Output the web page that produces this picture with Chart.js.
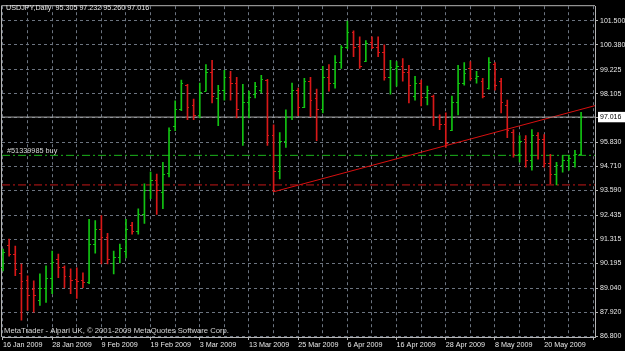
<!DOCTYPE html>
<html>
<head>
<meta charset="utf-8">
<title>USDJPY,Daily</title>
<script src="https://cdn.jsdelivr.net/npm/chart.js@4.4.0/dist/chart.umd.min.js"></script>
<style>
html, body { margin: 0; padding: 0; background: #000; }
</style>
</head>
<body>
<canvas id="chart" width="625" height="351"></canvas>
<script>
// daily bars, 16 Jan 2009 .. 28 May 2009 (index 0 = 16 Jan)
const OPEN = [
  90.00, 91.05, 90.62, 89.75, 89.40, 89.00, 88.50, 89.05, 89.50, 90.40,
  90.00, 89.60, 89.45, 89.40, 89.30, 91.10, 91.80, 91.40, 90.20, 90.50,
  90.75, 92.00, 91.70, 92.50, 93.60, 94.10, 93.50, 94.40, 96.60, 97.40,
  98.50, 97.60, 97.10, 98.25, 99.10, 97.90, 98.30, 98.90, 98.60, 97.00,
  97.70, 98.10, 98.30, 98.75, 96.20, 94.50, 95.90, 97.00, 98.30, 97.50,
  98.70, 97.90, 97.40, 98.90, 98.60, 99.60, 100.30, 101.00, 100.35, 99.65,
  100.50, 100.30, 100.05, 98.90, 99.30, 99.40, 99.10, 98.00, 98.60, 97.95,
  98.00, 97.00, 96.70, 96.40, 97.70, 98.60, 99.30, 98.85, 98.70, 98.35,
  99.50, 98.70, 97.60, 96.30, 95.30, 96.00, 95.00, 96.20, 96.00, 94.85,
  94.35, 94.80, 95.00, 94.90, 95.305
];
const HIGH = [
  90.86, 91.32, 91.00, 90.16, 89.61, 89.38, 89.70, 90.07, 90.76, 90.62,
  90.07, 89.93, 89.98, 89.75, 92.24, 92.19, 92.42, 91.59, 90.76, 91.09,
  92.24, 92.10, 92.74, 93.90, 94.45, 94.36, 94.91, 96.52, 97.77, 98.74,
  98.55, 97.86, 98.60, 99.47, 99.66, 98.50, 99.20, 99.15, 98.87, 98.55,
  98.23, 98.64, 98.97, 98.78, 96.66, 96.29, 97.35, 98.60, 98.37, 98.83,
  98.87, 98.32, 99.38, 99.47, 99.89, 100.35, 101.50, 101.04, 100.76, 100.58,
  100.76, 100.76, 100.39, 99.66, 99.61, 99.75, 99.43, 98.92, 98.74, 98.46,
  98.04, 97.12, 97.21, 98.00, 99.43, 99.56, 99.61, 99.15, 98.83, 99.79,
  99.56, 98.83, 97.81, 96.43, 96.15, 96.15, 96.43, 96.29, 96.20, 95.28,
  94.91, 95.23, 95.23, 95.46, 97.232
];
const LOW = [
  89.84, 90.53, 89.61, 87.54, 88.00, 87.91, 88.23, 88.37, 88.78, 89.52,
  89.06, 88.78, 88.55, 89.06, 89.24, 90.67, 90.16, 90.16, 89.70, 90.21,
  90.44, 91.55, 91.55, 92.05, 93.21, 92.47, 92.74, 94.22, 96.38, 97.31,
  96.89, 96.89, 96.98, 98.23, 97.68, 96.62, 97.81, 97.81, 96.98, 95.69,
  96.98, 97.91, 98.14, 95.69, 93.53, 94.13, 95.60, 96.89, 97.08, 97.45,
  97.03, 95.92, 97.21, 98.23, 98.37, 99.29, 100.21, 99.84, 99.29, 99.60,
  100.21, 99.84, 98.74, 98.09, 98.46, 98.69, 97.68, 97.81, 97.54, 97.58,
  96.62, 96.43, 95.60, 96.38, 97.12, 98.50, 98.74, 98.60, 97.91, 98.32,
  98.27, 97.21, 96.06, 95.14, 94.91, 94.68, 94.54, 95.05, 94.68, 93.90,
  93.85, 94.45, 94.54, 94.68, 95.260
];
const CLOSE = [
  90.70, 90.62, 89.95, 89.38, 88.70, 88.70, 89.05, 89.50, 90.25, 90.00,
  89.60, 89.40, 89.35, 89.30, 91.10, 91.80, 91.40, 90.40, 90.50, 90.90,
  91.80, 91.70, 92.50, 93.60, 94.10, 93.60, 94.35, 96.40, 97.40, 98.60,
  97.50, 97.10, 98.20, 99.10, 98.00, 98.30, 98.90, 98.60, 97.40, 97.70,
  97.95, 98.45, 98.80, 96.20, 94.50, 95.90, 97.00, 98.30, 97.50, 98.70,
  97.80, 97.40, 98.90, 98.60, 99.60, 100.30, 101.00, 100.30, 99.40, 100.45,
  100.30, 100.05, 98.90, 99.35, 99.40, 99.10, 98.50, 98.60, 97.95, 98.30,
  97.00, 96.70, 95.80, 97.70, 98.60, 99.05, 98.85, 98.95, 98.00, 99.60,
  98.50, 97.70, 96.40, 95.30, 95.90, 95.00, 96.20, 96.00, 94.85, 94.35,
  94.80, 95.00, 95.10, 95.30, 97.016
];

// x-axis labels, one every 8 bars
const DATE_LABELS = [
  "16 Jan 2009", "28 Jan 2009", "9 Feb 2009", "19 Feb 2009", "3 Mar 2009",
  "13 Mar 2009", "25 Mar 2009", "6 Apr 2009", "16 Apr 2009", "28 Apr 2009",
  "8 May 2009", "20 May 2009"
];
const PRICE_TICKS = [86.800, 87.920, 89.040, 90.195, 91.315, 92.435, 93.590,
  94.710, 95.830, 97.016, 98.105, 99.225, 100.380, 101.500];

const BID = 97.016;
const BUY_LEVEL = 95.23;
const STOP_LEVEL = 93.85;
const TREND_X = [44, 96.26];
const TREND_Y = [93.53, 97.55];

const X_MIN = -0.16, X_MAX = 96.26;
const Y_MIN = 86.754, Y_MAX = 102.19;

const BULL = "#12c412";
const BEAR = "#d81818";
const GRID = "#6c7480";
const AXIS = "#b4b4b4";
const TEXT = "#e8e8e8";
const FONT = { family: "Liberation Sans", size: 7 };

const barColors = CLOSE.map((c, i) => c >= OPEN[i] ? BULL : BEAR);

// open tick left, close tick right
const ohlcTicks = {
    id: "ohlcTicks",
    afterDatasetsDraw(chart) {
        const ctx = chart.ctx;
        const xs = chart.scales.x, ys = chart.scales.y;
        ctx.save();
        ctx.lineWidth = 1;
        OPEN.forEach((o, i) => {
            const x = Math.round(xs.getPixelForValue(i));
            const yo = Math.round(ys.getPixelForValue(o)) + 0.5;
            const yc = Math.round(ys.getPixelForValue(CLOSE[i])) + 0.5;
            ctx.strokeStyle = barColors[i];
            ctx.beginPath();
            ctx.moveTo(x - 2, yo); ctx.lineTo(x, yo);
            ctx.moveTo(x, yc); ctx.lineTo(x + 2, yc);
            ctx.stroke();
        });
        ctx.restore();
    }
};

const frameAndText = {
    id: "frameAndText",
    beforeDatasetsDraw(chart) {
        const {ctx, chartArea} = chart;
        ctx.save();
        ctx.strokeStyle = AXIS;
        ctx.lineWidth = 1;
        ctx.beginPath();
        ctx.moveTo(chartArea.left - 0.5, chartArea.bottom);
        ctx.lineTo(chartArea.left - 0.5, chartArea.top - 0.5);
        ctx.lineTo(chartArea.right, chartArea.top - 0.5);
        ctx.stroke();
        ctx.restore();
    },
    afterDraw(chart) {
        const {ctx} = chart;
        const ys = chart.scales.y;
        ctx.save();
        ctx.textBaseline = "middle";
        ctx.textAlign = "left";
        ctx.font = "7.2px 'Liberation Sans'";
        ctx.fillStyle = TEXT;
        ctx.fillText("USDJPY,Daily  95.305 97.232 95.260 97.016", 6, 8);
        ctx.font = "7.7px 'Liberation Sans'";
        ctx.fillStyle = "#d8d8d8";
        ctx.fillText("MetaTrader - Alpari UK, \u00a9 2001-2009 MetaQuotes Software Corp.", 4, 331);
        ctx.font = "7.3px 'Liberation Sans'";
        ctx.fillText("#51339985 buy", 7, ys.getPixelForValue(BUY_LEVEL) - 4);
        ctx.restore();
    }
};

new Chart(document.getElementById("chart"), {
    type: "bar",
    data: {
        datasets: [
            {
                type: "bar",
                data: HIGH.map((h, i) => ({ x: i, y: [LOW[i], h] })),
                backgroundColor: barColors,
                borderWidth: 0,
                barThickness: 1
            },
            {
                type: "line",
                data: [{ x: X_MIN, y: BID }, { x: X_MAX, y: BID }],
                borderColor: "#a8a8a8", borderWidth: 1, pointRadius: 0
            },
            {
                type: "line",
                data: [{ x: TREND_X[0], y: TREND_Y[0] }, { x: TREND_X[1], y: TREND_Y[1] }],
                borderColor: "#d81010", borderWidth: 1, pointRadius: 0
            },
            {
                type: "line",
                data: [{ x: X_MIN, y: BUY_LEVEL }, { x: X_MAX, y: BUY_LEVEL }],
                borderColor: "#1cb41c", borderWidth: 1, pointRadius: 0,
                borderDash: [8, 3, 2, 3]
            },
            {
                type: "line",
                data: [{ x: X_MIN, y: STOP_LEVEL }, { x: X_MAX, y: STOP_LEVEL }],
                borderColor: "#c41818", borderWidth: 1, pointRadius: 0,
                borderDash: [8, 3, 2, 3]
            }
        ]
    },
    options: {
        responsive: false,
        animation: false,
        layout: { padding: { left: 2, top: 2, right: 0, bottom: 0 } },
        plugins: { legend: { display: false }, tooltip: { enabled: false } },
        scales: {
            x: {
                type: "linear",
                min: X_MIN, max: X_MAX,
                offset: false,
                afterBuildTicks: s => {
                    s.ticks = [];
                    for (let v = 0; v <= X_MAX; v += 4) s.ticks.push({ value: v });
                },
                afterFit: s => { s.height = 14; },
                grid: {
                    color: GRID, offset: false, tickLength: 3,
                    tickColor: c => (c.tick && c.tick.value % 8 === 0) ? AXIS : "rgba(0,0,0,0)"
                },
                border: { color: AXIS, dash: [3, 3] },
                ticks: {
                    autoSkip: false, maxRotation: 0, minRotation: 0,
                    align: "start", padding: 1, color: TEXT,
                    font: { family: "Liberation Sans", size: 7.2 },
                    callback: v => v % 8 === 0 ? (DATE_LABELS[v / 8] || "") : ""
                }
            },
            y: {
                position: "right",
                min: Y_MIN, max: Y_MAX,
                afterBuildTicks: s => { s.ticks = PRICE_TICKS.map(v => ({ value: v })); },
                afterFit: s => { s.width = 30; },
                grid: { color: GRID, tickLength: 3, tickColor: AXIS },
                border: { color: AXIS, dash: [3, 3] },
                ticks: {
                    padding: 2, font: FONT,
                    color: c => c.tick && c.tick.value === BID ? "#000" : TEXT,
                    showLabelBackdrop: c => !!(c.tick && c.tick.value === BID),
                    backdropColor: "#ffffff",
                    backdropPadding: { top: 1, bottom: 1, left: 2, right: 4 },
                    callback: v => v.toFixed(3)
                }
            }
        }
    },
    plugins: [ohlcTicks, frameAndText]
});
</script>
</body>
</html>
